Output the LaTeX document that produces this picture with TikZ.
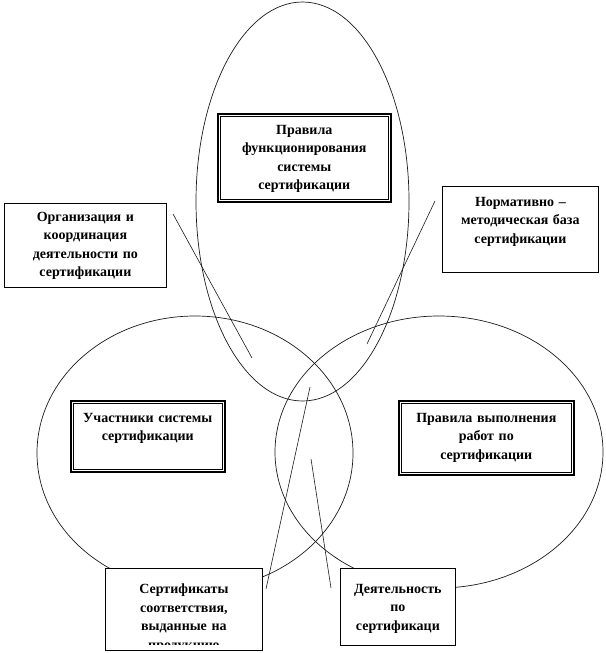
\documentclass[tikz,border=0pt]{standalone}
\usepackage{fontspec}
\setmainfont{Liberation Serif}
\usepackage{tikz}
\usetikzlibrary{shapes.geometric}
\definecolor{lineBlack}{HTML}{1A1A1A}
\newcommand{\boxfont}{\fontsize{14}{18.5}\selectfont\bfseries}
\tikzset{
  ring/.style={draw=lineBlack, ellipse, line width=0.7pt, inner sep=0pt},
  plainBox/.style={draw=black, line width=0.8pt, fill=white, inner sep=0pt, anchor=north west},
  dblBox/.style={plainBox, line width=1.6pt},
  innerFrame/.style={draw=black, line width=0.6pt},
  boxText/.style={anchor=north, align=center, inner sep=0pt, font=\boxfont},
  link/.style={draw=lineBlack, line width=0.6pt}
}

\begin{document}
\begin{tikzpicture}[x=1pt, y=-1pt]
  \useasboundingbox (0,0) rectangle (605,653);
  % three ovals
  \node[ring, minimum width=213pt, minimum height=399pt] (topOval) at (302.5,201.5) {};
  \node[ring, minimum width=316pt, minimum height=274pt] (leftOval) at (195,453) {};
  \node[ring, minimum width=328pt, minimum height=272pt] (rightOval) at (439,452) {};
  % connectors
  \coordinate (orgA) at (173,214);
  \coordinate (orgB) at (252,358);
  \coordinate (normA) at (435,201);
  \coordinate (normB) at (367,344);
  \coordinate (certA) at (310,387);
  \coordinate (certB) at (266,589);
  \coordinate (actA) at (311,459);
  \coordinate (actB) at (331,588);
  \draw[link] (orgA) -- (orgB);
  \draw[link] (normA) -- (normB);
  \draw[link] (certA) -- (certB);
  \draw[link] (actA) -- (actB);
  % double framed boxes
  \node[dblBox, minimum width=173pt, minimum height=88pt] (rulesBox) at (217,113) {};
  \draw[innerFrame] ([shift={(3.5pt,-3.5pt)}]rulesBox.north west) rectangle ([shift={(-3.5pt,3.5pt)}]rulesBox.south east);
  \node[boxText, text width=165pt] (rulesText) at ([yshift=-12pt]rulesBox.north) {Правила\\функционирования\\системы\\сертификации};
  \node[dblBox, minimum width=154pt, minimum height=71pt] (partBox) at (70,400) {};
  \draw[innerFrame] ([shift={(3.5pt,-3.5pt)}]partBox.north west) rectangle ([shift={(-3.5pt,3.5pt)}]partBox.south east);
  \node[boxText, text width=148pt] (partText) at ([yshift=-13pt]partBox.north) {Участники системы\\сертификации};
  \node[dblBox, minimum width=175pt, minimum height=74pt] (workBox) at (398,400) {};
  \draw[innerFrame] ([shift={(3.5pt,-3.5pt)}]workBox.north west) rectangle ([shift={(-3.5pt,3.5pt)}]workBox.south east);
  \node[boxText, text width=168pt] (workText) at ([yshift=-13pt]workBox.north) {Правила выполнения\\работ по\\сертификации};
  % plain boxes
  \node[plainBox, minimum width=162pt, minimum height=84pt] (orgBox) at (4,203) {};
  \node[boxText, text width=158pt] (orgText) at ([yshift=-9pt]orgBox.north) {Организация и\\координация\\деятельности по\\сертификации};
  \node[plainBox, minimum width=156pt, minimum height=86pt] (normBox) at (442,186) {};
  \node[boxText, text width=152pt] (normText) at ([yshift=-11pt]normBox.north) {Нормативно --\\методическая база\\сертификации};
  \node[plainBox, minimum width=157pt, minimum height=82pt] (certBox) at (105,568) {};
  \begin{scope}
    \clip ([yshift=6.5pt]certBox.south west) rectangle (certBox.north east);
    \node[boxText, text width=152pt] (certText) at ([yshift=-16pt]certBox.north) {Сертификаты\\соответствия,\\выданные на\\продукцию};
  \end{scope}
  \node[plainBox, minimum width=115pt, minimum height=77pt] (actBox) at (340,568) {};
  \node[boxText, text width=112pt] (actText) at ([yshift=-16pt]actBox.north) {Деятельность\\по\\сертификаци};
\end{tikzpicture}
\end{document}
